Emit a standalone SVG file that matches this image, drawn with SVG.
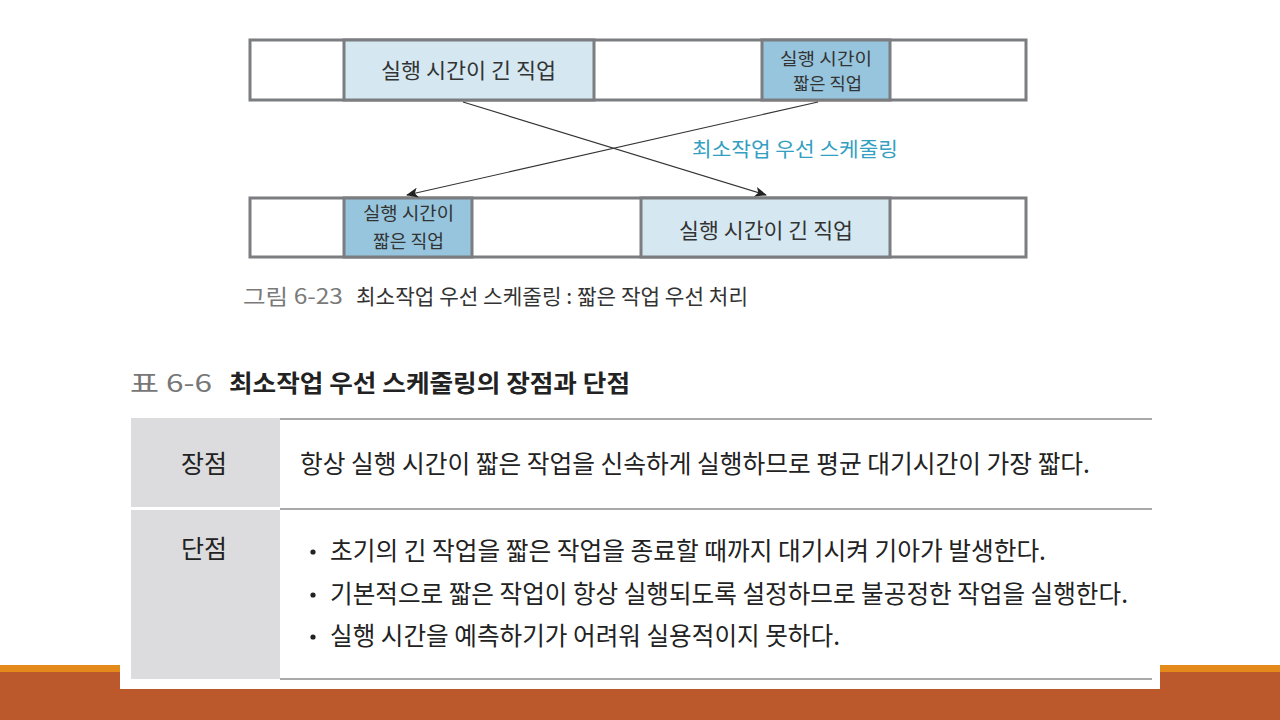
<svg xmlns="http://www.w3.org/2000/svg" width="1280" height="720" viewBox="0 0 1280 720">
<defs>
<style>
.k{font-family:"Noto Sans CJK KR","Liberation Sans",sans-serif;fill:#333}
.box{stroke:#7b7d80;stroke-width:3}
.lt{fill:#d5e8f1}
.md{fill:#96c5dd}
.wh{fill:#fff}
.conn{stroke:#333;stroke-width:1.1;fill:none;marker-end:url(#ah)}
.tb{fill:#222}
.hl{stroke:#a9a9a9;stroke-width:2}
</style>
<marker id="ah" viewBox="0 0 12 10" refX="11" refY="5" markerWidth="12" markerHeight="10" markerUnits="userSpaceOnUse" orient="auto">
<path d="M0,0 L12,5 L0,10 L3,5 Z" fill="#222"/>
</marker>
</defs>
<rect x="0" y="0" width="1280" height="720" fill="#fff"/>
<rect x="0" y="665" width="1280" height="8" fill="#e38a1a"/>
<rect x="0" y="672" width="1280" height="48" fill="#bc592c"/>
<rect x="120" y="0" width="1040" height="689" fill="#fff"/>

<g id="top-row">
<rect class="box wh" x="250" y="40" width="776" height="60"/>
<rect class="box lt" x="344" y="40" width="250" height="60"/>
<rect class="box md" x="762" y="40" width="128" height="60"/>
<text class="k" x="381" y="78" font-size="21" textLength="175" lengthAdjust="spacingAndGlyphs">실행 시간이 긴 직업</text>
<text class="k" x="780" y="65" font-size="17" textLength="92" lengthAdjust="spacingAndGlyphs">실행 시간이</text>
<text class="k" x="793" y="90" font-size="17" textLength="69" lengthAdjust="spacingAndGlyphs">짧은 직업</text>
</g>

<g id="bottom-row">
<rect class="box wh" x="250" y="198" width="776" height="59"/>
<rect class="box md" x="344" y="198" width="128" height="59"/>
<rect class="box lt" x="641" y="198" width="249" height="59"/>
<text class="k" x="363" y="220" font-size="18" textLength="91" lengthAdjust="spacingAndGlyphs">실행 시간이</text>
<text class="k" x="373" y="248" font-size="18" textLength="71" lengthAdjust="spacingAndGlyphs">짧은 직업</text>
<text class="k" x="679" y="238" font-size="21" textLength="174" lengthAdjust="spacingAndGlyphs">실행 시간이 긴 직업</text>
</g>

<g id="connectors">
<line class="conn" x1="463" y1="102" x2="766" y2="195"/>
<line class="conn" x1="818" y1="102" x2="407" y2="195"/>
</g>
<text class="k" x="692" y="157" font-size="20" style="fill:#33a0c2" textLength="206" lengthAdjust="spacingAndGlyphs">최소작업 우선 스케줄링</text>

<g id="caption">
<text class="k" x="243" y="304" font-size="21" style="fill:#7a7a7a" textLength="100" lengthAdjust="spacingAndGlyphs">그림 6-23</text>
<text class="k" x="356" y="304" font-size="21" textLength="392" lengthAdjust="spacingAndGlyphs">최소작업 우선 스케줄링 : 짧은 작업 우선 처리</text>
</g>

<g id="table-title">
<text class="k" x="130" y="392" font-size="24" style="fill:#777" textLength="82" lengthAdjust="spacingAndGlyphs">표 6-6</text>
<text class="k" x="229" y="392" font-size="24" font-weight="bold" style="fill:#222" textLength="401" lengthAdjust="spacingAndGlyphs">최소작업 우선 스케줄링의 장점과 단점</text>
</g>

<g id="table">
<rect x="131" y="418" width="149" height="89" fill="#dcdcde"/>
<rect x="131" y="510" width="149" height="169" fill="#dcdcde"/>
<line class="hl" x1="280" y1="419" x2="1152" y2="419"/>
<line class="hl" x1="280" y1="509" x2="1152" y2="509"/>
<line class="hl" x1="280" y1="679" x2="1152" y2="679"/>
<text class="k tb" x="204" y="473" font-size="25" text-anchor="middle">장점</text>
<text class="k tb" x="204" y="558" font-size="25" text-anchor="middle">단점</text>
<text class="k tb" x="300" y="473" font-size="25" textLength="790" lengthAdjust="spacingAndGlyphs">항상 실행 시간이 짧은 작업을 신속하게 실행하므로 평균 대기시간이 가장 짧다.</text>
<circle cx="313" cy="552" r="2.6" fill="#222"/>
<circle cx="313" cy="595" r="2.6" fill="#222"/>
<circle cx="313" cy="637" r="2.6" fill="#222"/>
<text class="k tb" x="330" y="560" font-size="25" textLength="716" lengthAdjust="spacingAndGlyphs">초기의 긴 작업을 짧은 작업을 종료할 때까지 대기시켜 기아가 발생한다.</text>
<text class="k tb" x="330" y="603" font-size="25" textLength="798" lengthAdjust="spacingAndGlyphs">기본적으로 짧은 작업이 항상 실행되도록 설정하므로 불공정한 작업을 실행한다.</text>
<text class="k tb" x="330" y="645" font-size="25" textLength="510" lengthAdjust="spacingAndGlyphs">실행 시간을 예측하기가 어려워 실용적이지 못하다.</text>
</g>
</svg>
